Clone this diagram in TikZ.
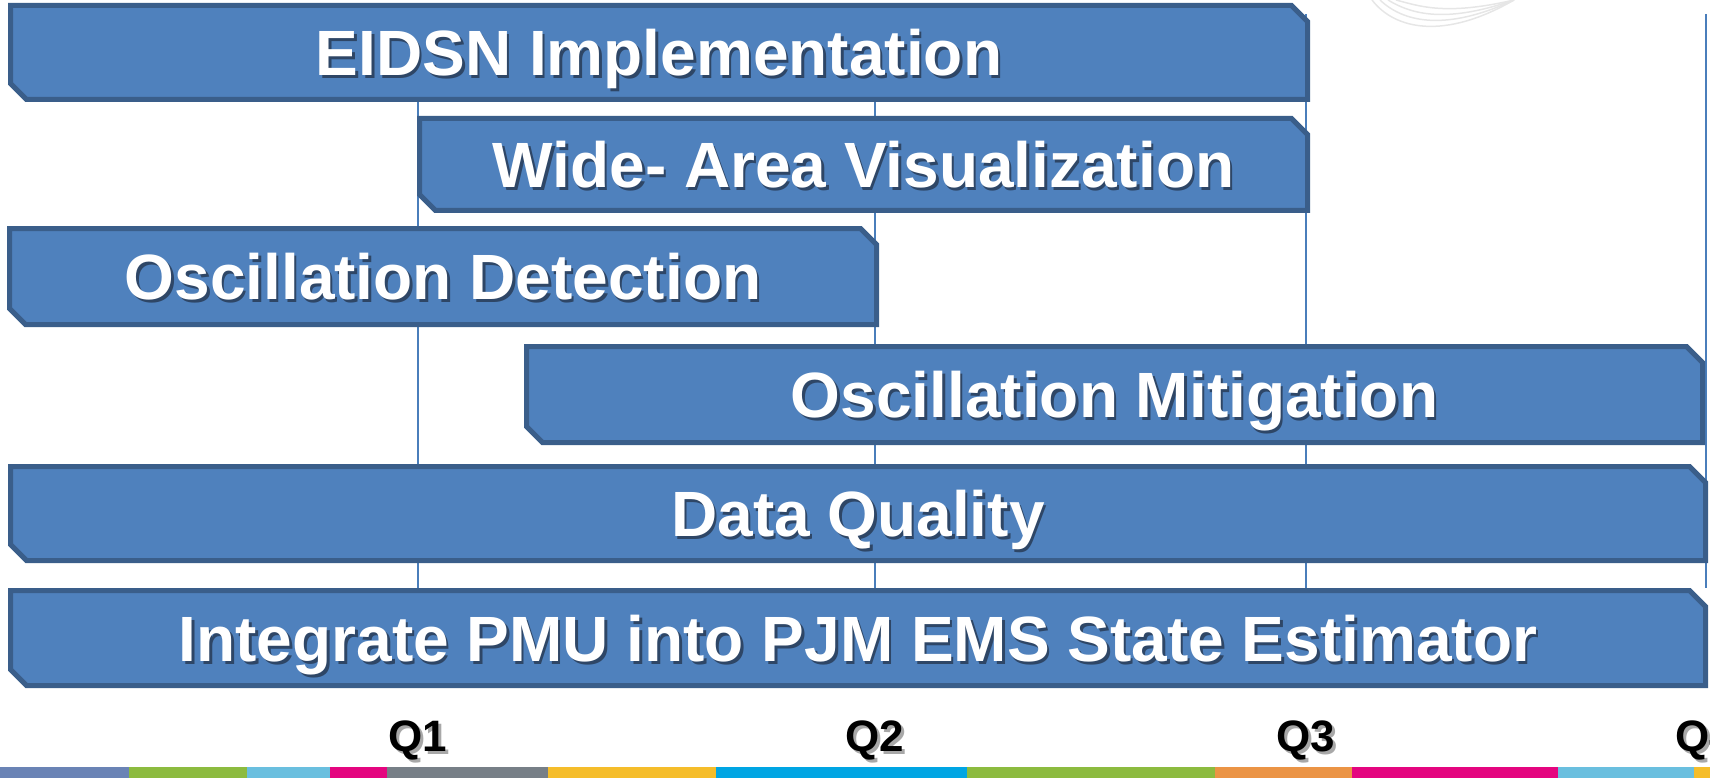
\documentclass[tikz,border=0pt]{standalone}
\usepackage{fontspec}
\setmainfont{Liberation Sans}
\usetikzlibrary{shapes.misc}
\definecolor{barfill}{HTML}{4F81BD}
\definecolor{barline}{HTML}{3A5E8A}
\definecolor{gridblue}{HTML}{4A7EBB}
\definecolor{textshade}{HTML}{2E4666}
\definecolor{qshade}{HTML}{A8A8A8}
\definecolor{wmgray}{HTML}{E6E6E6}
\definecolor{stripA}{HTML}{6A83B5}
\definecolor{stripB}{HTML}{8CBB3F}
\definecolor{stripC}{HTML}{6ABFDF}
\definecolor{stripD}{HTML}{E4057F}
\definecolor{stripE}{HTML}{777F87}
\definecolor{stripF}{HTML}{F5BD2A}
\definecolor{stripG}{HTML}{00A5E3}
\definecolor{stripH}{HTML}{EB9445}
\newcommand{\castshade}[2]{\makebox[0pt][l]{\hspace{2.5pt}\raisebox{-3pt}{\textcolor{#1}{#2}}}#2}
\tikzset{
bar/.style={chamfered rectangle, chamfered rectangle corners={north east, south west},
  chamfered rectangle xsep=8pt, chamfered rectangle ysep=8pt,
  draw=barline, line width=5pt, fill=barfill, inner sep=0pt, text=white,
  text height=46pt, text depth=0pt,
  font=\fontsize{64}{64}\selectfont\bfseries}, % task bars
quarter/.style={inner sep=0pt, text height=31pt, text depth=0pt,
  font=\fontsize{44}{44}\selectfont\bfseries}, % quarter labels
gridline/.style={gridblue, line width=1.3pt}, % quarter markers
}

\begin{document}
\begin{tikzpicture}[x=1pt, y=-1pt]
            \useasboundingbox (0,0) rectangle (1710,778);
            % faint watermark
            \foreach \d in {0,8,16,24}
                \draw[wmgray, line width=1.5pt] (1372+\d,0) .. controls (1395+\d,30-\d) and (1445,40-\d) .. (1514,0);
            % quarter markers
            \coordinate (g1) at (418,14);
            \coordinate (g2) at (875,14);
            \coordinate (g3) at (1306,14);
            \coordinate (g4) at (1706,14);
            \foreach \g in {g1,g2,g3,g4}
                \draw[gridline] (\g) -- ++(0,574);
            % tasks
            \node[bar, minimum width=1297pt, minimum height=94pt] (eidsn) at (659,52.5) {\castshade{textshade}{EIDSN Implementation}};
            \node[bar, minimum width=888pt, minimum height=92pt] (wav) at (863.5,164.5) {\castshade{textshade}{Wide- Area Visualization}};
            \node[bar, minimum width=867pt, minimum height=96pt] (osd) at (443,276.5) {\castshade{textshade}{Oscillation Detection}};
            \node[bar, minimum width=1176pt, minimum height=96pt] (osm) at (1114.5,394.5) {\castshade{textshade}{Oscillation Mitigation}};
            \node[bar, minimum width=1695pt, minimum height=94pt] (dq) at (858,513.5) {\castshade{textshade}{Data Quality}};
            \node[bar, minimum width=1695pt, minimum height=95pt] (pmu) at (858,638) {\castshade{textshade}{Integrate PMU into PJM EMS State Estimator}};
            % quarters
            \node[quarter] (q1) at (418,736) {\castshade{qshade}{Q1}};
            \node[quarter] (q2) at (875,736) {\castshade{qshade}{Q2}};
            \node[quarter] (q3) at (1306,736) {\castshade{qshade}{Q3}};
            \node[quarter] (q4) at (1705,736) {\castshade{qshade}{Q4}};
            % colour strip
            \foreach \a/\b/\c in {0/129/stripA, 129/247/stripB, 247/330/stripC, 330/387/stripD,
                387/548/stripE, 548/716/stripF, 716/967/stripG, 967/1215/stripB,
                1215/1352/stripH, 1352/1558/stripD, 1558/1694/stripC, 1694/1710/stripF}
                \fill[\c] (\a,767) rectangle (\b,778);
        \end{tikzpicture}
\end{document}
